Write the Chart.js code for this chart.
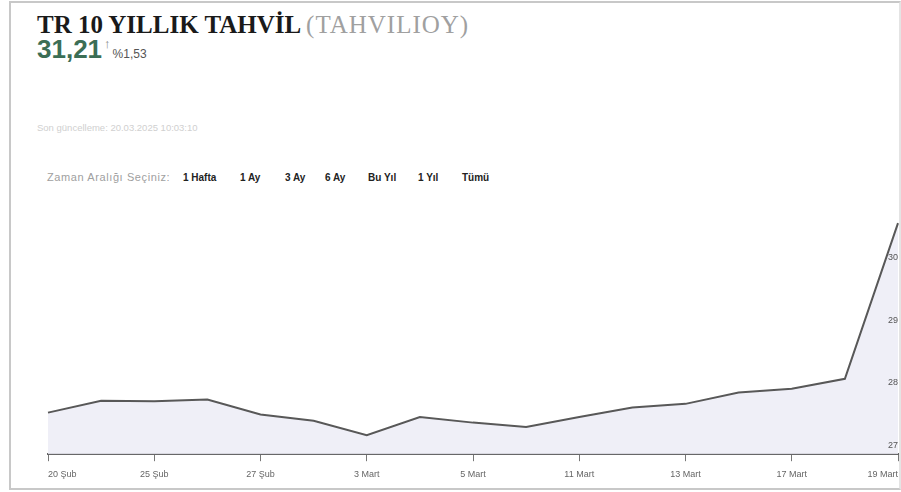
<!DOCTYPE html>
<html lang="tr">
<head>
<meta charset="utf-8">
<script src="https://cdn.jsdelivr.net/npm/chart.js@4.4.1/dist/chart.umd.min.js"></script>
<style>
  html, body { margin: 0; padding: 0; background: #fff; }
  body { width: 901px; height: 492px; position: relative; overflow: hidden; font-family: "Liberation Sans", Arial, sans-serif; }
  .frame { position: absolute; left: 9px; top: 1px; width: 888px; height: 485px; border: 2px solid #c8c8c8; border-right-color: #e4e4e4; }
  .title { position: absolute; left: 37px; top: 11px; font-family: "Liberation Serif", serif; font-size: 25px; font-weight: bold; color: #1a1a1a; white-space: nowrap; }
  .title span { font-weight: normal; color: #a0a0a0; letter-spacing: 1px; }
  .price { position: absolute; left: 37px; top: 34px; white-space: nowrap; }
  .price b { font-size: 26px; color: #3c6e55; }
  .price i { font-style: normal; font-size: 13px; color: #888; margin-left: 2px; position: relative; top: -10px; }
  .price span { font-size: 12px; color: #555; margin-left: 2px; }
  .updated { position: absolute; left: 37px; top: 122px; font-size: 9.5px; color: #d0d0d0; white-space: nowrap; }
  .range { position: absolute; top: 172px; font-size: 10px; white-space: nowrap; }
  .range.label { left: 47px; font-size: 11px; letter-spacing: 0.6px; color: #a0a0a0; top: 171px; }
  .range.btn { font-weight: bold; color: #222; }
  .chart-box { position: absolute; left: 0; top: 190px; width: 906px; height: 298px; }
</style>
</head>
<body>
<div class="frame"></div>
<div class="title">TR 10 YILLIK TAHVİL <span>(TAHVILIOY)</span></div>
<div class="price"><b>31,21</b><i>↑</i><span>%1,53</span></div>
<div class="updated">Son güncelleme: 20.03.2025 10:03:10</div>
<div class="range label">Zaman Aralığı Seçiniz:</div>
<div class="range btn" style="left:183px">1 Hafta</div>
<div class="range btn" style="left:240px">1 Ay</div>
<div class="range btn" style="left:285px">3 Ay</div>
<div class="range btn" style="left:325px">6 Ay</div>
<div class="range btn" style="left:368px">Bu Yıl</div>
<div class="range btn" style="left:418px">1 Yıl</div>
<div class="range btn" style="left:462px">Tümü</div>
<div class="chart-box"><canvas id="chart"></canvas></div>
<script>
// trading days shown on the chart
const days = ['20 Şub', '21 Şub', '25 Şub', '26 Şub', '27 Şub', '28 Şub', '3 Mart', '4 Mart', '5 Mart',
  '6 Mart', '11 Mart', '12 Mart', '13 Mart', '14 Mart', '17 Mart', '18 Mart', '19 Mart'];
// yield (%)
const yields = [27.52, 27.71, 27.70, 27.73, 27.49, 27.39, 27.16, 27.45, 27.36,
  27.29, 27.45, 27.60, 27.66, 27.84, 27.90, 28.06, 30.55];
const yTicks = [27, 28, 29, 30];

document.addEventListener('DOMContentLoaded', function() {
  const ctx = document.getElementById('chart');

  new Chart(ctx, {
    type: 'line',
    data: {
      labels: days,
      datasets: [{
        data: yields,
        borderColor: '#585858',
        borderWidth: 2,
        backgroundColor: 'rgba(236, 236, 246, 0.85)',
        fill: 'start',
        pointRadius: 0,
        tension: 0
      }]
    },
    options: {
      responsive: true,
      maintainAspectRatio: false,
      animation: false,
      layout: { padding: { left: 48, right: 0, top: 10, bottom: 0 } },
      plugins: { legend: { display: false }, tooltip: { enabled: false } },
      scales: {
        x: {
          offset: false,
          grid: {
            drawOnChartArea: false,
            tickLength: 7,
            color: function(c) { return c.index % 2 ? 'transparent' : '#777'; }
          },
          border: { color: '#666', width: 2 },
          ticks: {
            autoSkip: false,
            maxRotation: 0,
            align: 'inner',
            padding: 8,
            color: '#666',
            font: { size: 9, family: 'Liberation Sans' },
            callback: function(v, i) { return i % 2 ? '' : days[i]; }
          }
        },
        y: {
          position: 'right',
          min: 26.855,
          max: 30.92,
          grid: { display: false, drawTicks: false },
          border: { display: false },
          afterBuildTicks: function(scale) { scale.ticks = yTicks.map(v => ({ value: v })); },
          ticks: {
            z: 1,
            mirror: true,
            padding: 0,
            color: '#555',
            font: { size: 9, family: 'Liberation Sans' }
          }
        }
      }
    }
  });
});
</script>
</body>
</html>
